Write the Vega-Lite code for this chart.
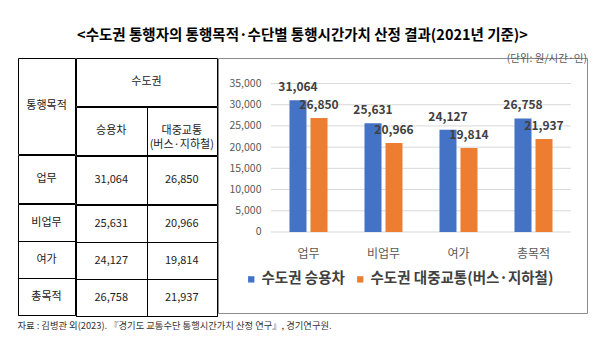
{
  "$schema": "https://vega.github.io/schema/vega-lite/v6.json",
  "padding": {"left": 17, "top": 28, "right": 16, "bottom": 10},
  "background": "white",
  "config": {
    "font": "Noto Sans CJK KR",
    "view": {"stroke": "#000000", "strokeWidth": 1},
    "concat": {"spacing": -1},
    "title": {"font": "Noto Sans CJK KR", "subtitleFont": "Noto Sans CJK KR"},
    "axis": {"labelFont": "Noto Sans CJK KR", "titleFont": "Noto Sans CJK KR"},
    "legend": {"labelFont": "Noto Sans CJK KR", "titleFont": "Noto Sans CJK KR"},
    "text": {"font": "Noto Sans CJK KR"}
  },
  "datasets": {
    "main": [
      {"purpose": "업무", "mode": "수도권 승용차", "value": 31064},
      {"purpose": "업무", "mode": "수도권 대중교통(버스·지하철)", "value": 26850},
      {"purpose": "비업무", "mode": "수도권 승용차", "value": 25631},
      {"purpose": "비업무", "mode": "수도권 대중교통(버스·지하철)", "value": 20966},
      {"purpose": "여가", "mode": "수도권 승용차", "value": 24127},
      {"purpose": "여가", "mode": "수도권 대중교통(버스·지하철)", "value": 19814},
      {"purpose": "총목적", "mode": "수도권 승용차", "value": 26758},
      {"purpose": "총목적", "mode": "수도권 대중교통(버스·지하철)", "value": 21937}
    ],
    "headers": [
      {"mode": "수도권 승용차", "label": ["승용차"]},
      {"mode": "수도권 대중교통(버스·지하철)", "label": ["대중교통", "(버스·지하철)"]}
    ],
    "ticks": [
      {"v": 0}, {"v": 5000}, {"v": 10000}, {"v": 15000},
      {"v": 20000}, {"v": 25000}, {"v": 30000}, {"v": 35000}
    ]
  },
  "title": {
    "text": "<수도권 통행자의 통행목적·수단별 통행시간가치 산정 결과(2021년 기준)>",
    "anchor": "middle",
    "fontSize": 14.5,
    "fontWeight": "bold",
    "color": "#000000",
    "offset": 9.5
  },
  "spacing": -1,
  "vconcat": [
    {
      "title": {
        "text": "자료 : 김병관 외(2023). 『경기도 교통수단 통행시간가치 산정 연구』, 경기연구원.",
        "orient": "bottom",
        "anchor": "start",
        "fontSize": 9.3,
        "fontWeight": "normal",
        "color": "#333333",
        "offset": 5
      },
      "spacing": -1,
      "hconcat": [
        {
          "spacing": -1,
          "vconcat": [
            {
              "width": 57,
              "height": 96,
              "data": {"values": [{"t": "통행목적"}]},
              "mark": {"type": "text", "fontSize": 11, "color": "#222222"},
              "encoding": {
                "x": {"field": "t", "type": "nominal", "scale": {"type": "band", "paddingInner": 0, "paddingOuter": 0}, "axis": null},
                "text": {"field": "t"}
              }
            },
            {
              "width": 57,
              "height": 48,
              "data": {"name": "main"},
              "transform": [{"filter": "datum.purpose === '업무' && datum.mode === '수도권 승용차'"}],
              "mark": {"type": "text", "fontSize": 11, "color": "#222222"},
              "encoding": {
                "x": {"field": "purpose", "type": "nominal", "scale": {"type": "band", "paddingInner": 0, "paddingOuter": 0}, "axis": null},
                "text": {"field": "purpose"}
              }
            },
            {
              "width": 57,
              "height": 111,
              "data": {"name": "main"},
              "transform": [{"filter": "datum.purpose !== '업무' && datum.mode === '수도권 승용차'"}],
              "mark": {"type": "text", "fontSize": 11, "color": "#222222"},
              "encoding": {
                "y": {
                  "field": "purpose", "type": "nominal",
                  "scale": {"type": "band", "domain": ["비업무", "여가", "총목적"], "paddingInner": 0, "paddingOuter": 0},
                  "axis": {"labels": false, "ticks": false, "domain": false, "title": null, "grid": true, "tickBand": "extent", "gridColor": "#000000", "gridOpacity": 1}
                },
                "text": {"field": "purpose"}
              }
            }
          ]
        },
        {
          "spacing": -1,
          "vconcat": [
            {
              "width": 141,
              "height": 48,
              "data": {"values": [{"t": "수도권"}]},
              "mark": {"type": "text", "fontSize": 11, "color": "#222222"},
              "encoding": {
                "x": {"field": "t", "type": "nominal", "scale": {"type": "band", "paddingInner": 0, "paddingOuter": 0}, "axis": null},
                "text": {"field": "t"}
              }
            },
            {
              "width": 141,
              "height": 48,
              "data": {"name": "headers"},
              "mark": {"type": "text", "fontSize": 11, "color": "#222222", "lineHeight": 14},
              "encoding": {
                "x": {
                  "field": "mode", "type": "nominal",
                  "scale": {"type": "band", "domain": ["수도권 승용차", "수도권 대중교통(버스·지하철)"], "paddingInner": 0, "paddingOuter": 0},
                  "axis": {"labels": false, "ticks": false, "domain": false, "title": null, "grid": true, "tickBand": "extent", "gridColor": "#000000", "gridOpacity": 1}
                },
                "text": {"field": "label"}
              }
            },
            {
              "width": 141,
              "height": 48,
              "data": {"name": "main"},
              "transform": [{"filter": "datum.purpose === '업무'"}],
              "mark": {"type": "text", "fontSize": 11, "color": "#222222"},
              "encoding": {
                "x": {
                  "field": "mode", "type": "nominal",
                  "scale": {"type": "band", "domain": ["수도권 승용차", "수도권 대중교통(버스·지하철)"], "paddingInner": 0, "paddingOuter": 0},
                  "axis": {"labels": false, "ticks": false, "domain": false, "title": null, "grid": true, "tickBand": "extent", "gridColor": "#000000", "gridOpacity": 1}
                },
                "text": {"field": "value", "type": "quantitative", "format": ","}
              }
            },
            {
              "width": 141,
              "height": 111,
              "data": {"name": "main"},
              "transform": [{"filter": "datum.purpose !== '업무'"}],
              "mark": {"type": "text", "fontSize": 11, "color": "#222222"},
              "encoding": {
                "x": {
                  "field": "mode", "type": "nominal",
                  "scale": {"type": "band", "domain": ["수도권 승용차", "수도권 대중교통(버스·지하철)"], "paddingInner": 0, "paddingOuter": 0},
                  "axis": {"labels": false, "ticks": false, "domain": false, "title": null, "grid": true, "tickBand": "extent", "gridColor": "#000000", "gridOpacity": 1}
                },
                "y": {
                  "field": "purpose", "type": "nominal",
                  "scale": {"type": "band", "domain": ["비업무", "여가", "총목적"], "paddingInner": 0, "paddingOuter": 0},
                  "axis": {"labels": false, "ticks": false, "domain": false, "title": null, "grid": true, "tickBand": "extent", "gridColor": "#000000", "gridOpacity": 1}
                },
                "text": {"field": "value", "type": "quantitative", "format": ","}
              }
            }
          ]
        },
        {
          "width": 369,
          "height": 255,
          "view": {"stroke": "#8c8c8c"},
          "title": {
            "text": "(단위: 원/시간·인)",
            "anchor": "end",
            "frame": "group",
            "fontSize": 10.5,
            "fontWeight": "normal",
            "color": "#595959",
            "offset": -6
          },
          "layer": [
            {
              "data": {"name": "ticks"},
              "mark": {"type": "rule", "color": "#d9d9d9", "strokeWidth": 1},
              "encoding": {
                "y": {
                  "field": "v", "type": "quantitative",
                  "scale": {"domain": [-19091, 41010], "nice": false, "zero": false},
                  "axis": {"values": [0, 5000, 10000, 15000, 20000, 25000, 30000, 35000], "labelExpr": "format(datum.value, ',')", "labelOverlap": false, "offset": -53, "labelPadding": 10, "domain": false, "ticks": false, "grid": false, "title": null, "labelFontSize": 10.5, "labelColor": "#595959"}
                },
                "x": {
                  "datum": "업무", "type": "nominal", "bandPosition": 0,
                  "scale": {"type": "band", "domain": ["업무", "비업무", "여가", "총목적"], "paddingInner": 0, "paddingOuter": 0.46, "align": 0.768},
                  "axis": {"offset": -80, "labelPadding": 15, "domain": false, "ticks": false, "title": null, "labelFontSize": 12, "labelColor": "#595959", "labelAngle": 0, "grid": false}
                },
                "x2": {"datum": "총목적", "bandPosition": 1}
              }
            },
            {
              "data": {"name": "main"},
              "mark": {"type": "bar"},
              "encoding": {
                "x": {
                  "field": "purpose", "type": "nominal",
                  "scale": {"type": "band", "domain": ["업무", "비업무", "여가", "총목적"], "paddingInner": 0, "paddingOuter": 0.46, "align": 0.768},
                  "axis": {"offset": -80, "labelPadding": 15, "domain": false, "ticks": false, "title": null, "labelFontSize": 12, "labelColor": "#595959", "labelAngle": 0, "grid": false}
                },
                "xOffset": {
                  "field": "mode", "type": "nominal",
                  "scale": {"domain": ["수도권 승용차", "수도권 대중교통(버스·지하철)"], "paddingInner": 0.19, "paddingOuter": 0.88}
                },
                "y": {
                  "field": "value", "type": "quantitative",
                  "scale": {"domain": [-19091, 41010], "nice": false, "zero": false},
                  "axis": {"values": [0, 5000, 10000, 15000, 20000, 25000, 30000, 35000], "labelExpr": "format(datum.value, ',')", "labelOverlap": false, "offset": -53, "labelPadding": 10, "domain": false, "ticks": false, "grid": false, "title": null, "labelFontSize": 10.5, "labelColor": "#595959"}
                },
                "color": {
                  "field": "mode", "type": "nominal",
                  "scale": {"domain": ["수도권 승용차", "수도권 대중교통(버스·지하철)"], "range": ["#4472C4", "#ED7D31"]},
                  "legend": {"orient": "none", "legendX": 226, "legendY": 214, "direction": "horizontal", "columns": 2, "title": null, "symbolType": "square", "symbolSize": 40, "symbolStrokeWidth": 0, "labelFontSize": 14.5, "labelFontWeight": "bold", "labelColor": "#404040", "labelLimit": 400, "columnPadding": 8, "labelOffset": 3, "padding": 0}
                }
              }
            },
            {
              "data": {"name": "main"},
              "mark": {"type": "text", "dy": -13, "fontSize": 12, "fontWeight": "bold", "color": "#404040"},
              "encoding": {
                "x": {
                  "field": "purpose", "type": "nominal",
                  "scale": {"type": "band", "domain": ["업무", "비업무", "여가", "총목적"], "paddingInner": 0, "paddingOuter": 0.46, "align": 0.768},
                  "axis": {"offset": -80, "labelPadding": 15, "domain": false, "ticks": false, "title": null, "labelFontSize": 12, "labelColor": "#595959", "labelAngle": 0, "grid": false}
                },
                "xOffset": {
                  "field": "mode", "type": "nominal",
                  "scale": {"domain": ["수도권 승용차", "수도권 대중교통(버스·지하철)"], "paddingInner": 0.19, "paddingOuter": 0.88}
                },
                "y": {
                  "field": "value", "type": "quantitative",
                  "scale": {"domain": [-19091, 41010], "nice": false, "zero": false},
                  "axis": {"values": [0, 5000, 10000, 15000, 20000, 25000, 30000, 35000], "labelExpr": "format(datum.value, ',')", "labelOverlap": false, "offset": -53, "labelPadding": 10, "domain": false, "ticks": false, "grid": false, "title": null, "labelFontSize": 10.5, "labelColor": "#595959"}
                },
                "text": {"field": "value", "type": "quantitative", "format": ","}
              }
            }
          ]
        }
      ]
    }
  ]
}
